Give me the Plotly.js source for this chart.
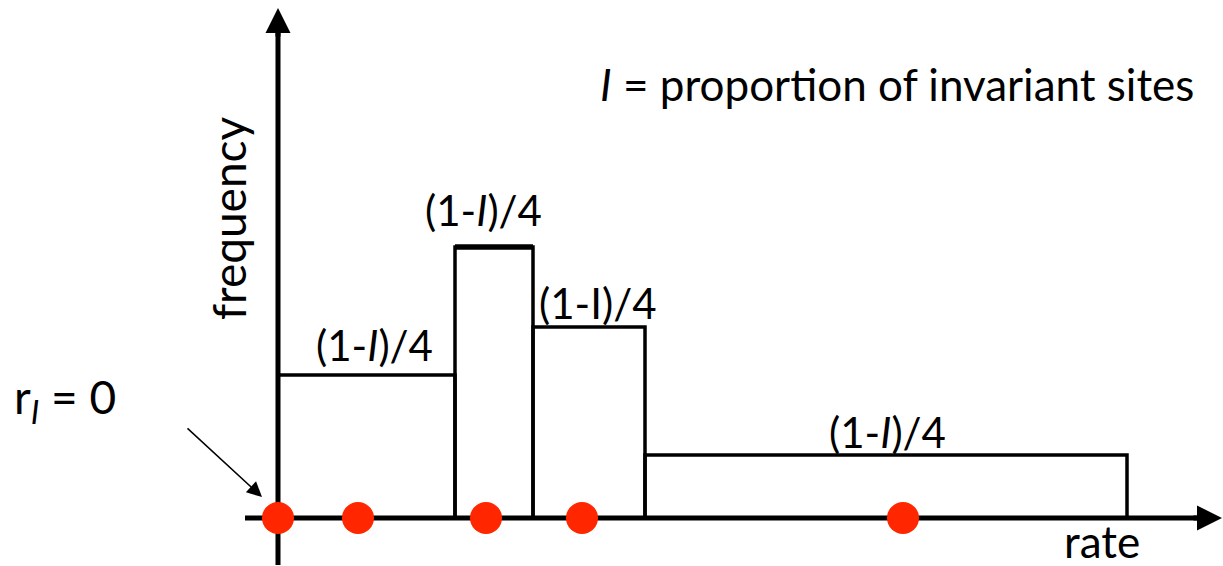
<!DOCTYPE html>
<html>
<head>
<meta charset="utf-8">
<script src="https://cdn.plot.ly/plotly-3.0.1.min.js"></script>
<style>
html,body{margin:0;padding:0;background:#fff;}
#chart{width:1223px;height:566px;}
</style>
</head>
<body>
<div id="chart"></div>
<script>
// ---- data (rate in arbitrary units, frequency in arbitrary units) ----
const binEdges = [0, 1.77, 2.55, 3.67, 8.49];          // rate category boundaries
const binHeights = [1.43, 2.71, 1.91, 0.63];           // frequency of each rate category
const binLabels = ['(1-<i>I</i>)/4', '(1-<i>I</i>)/4', '(1-I)/4', '(1-<i>I</i>)/4'];
const rateValues = [0, 0.80, 2.08, 3.04, 6.25];        // representative rates (r_I = 0 first)
const xAxisTitle = 'rate';
const yAxisTitle = 'frequency';
const noteText = '<i>I</i> = proportion of invariant sites';
const invariantText = 'r<sub><i>I</i></sub> = 0';

const FONT = 'Lato, "Open Sans", sans-serif';
const binCenters = binHeights.map((_, i) => (binEdges[i] + binEdges[i + 1]) / 2);
const binWidths = binHeights.map((_, i) => binEdges[i + 1] - binEdges[i]);

const traces = [
  {
    type: 'bar',
    x: binCenters,
    y: binHeights,
    width: binWidths,
    marker: {color: 'rgba(0,0,0,0)', line: {color: '#000', width: 3.5}},
    hoverinfo: 'skip',
    showlegend: false
  },
  {
    type: 'scatter',
    mode: 'lines',
    x: [binEdges[1], binEdges[2]],
    y: [binHeights[1], binHeights[1]],
    line: {color: '#000', width: 5.5},
    hoverinfo: 'skip',
    showlegend: false
  },
  {
    type: 'scatter',
    mode: 'markers',
    x: rateValues,
    y: rateValues.map(() => 0),
    marker: {color: '#ff2600', size: 32},
    cliponaxis: false,
    hoverinfo: 'skip',
    showlegend: false
  }
];

const labelXShift = [8, -11, 9, 1];
const labelYShift = [30, 37, 24, 23];

const annotations = [];
binLabels.forEach((t, i) => {
  annotations.push({
    x: binCenters[i], y: binHeights[i], xref: 'x', yref: 'y',
    text: t, showarrow: false, xanchor: 'center', yanchor: 'middle',
    xshift: labelXShift[i], yshift: labelYShift[i],
    font: {family: FONT, size: 42, color: '#000'}
  });
});
// axis arrowheads
annotations.push({x: 0, y: 5.10, xref: 'x', yref: 'y', ax: 0, ay: 30, axref: 'pixel', ayref: 'pixel',
  showarrow: true, arrowhead: 2, arrowsize: 1, arrowwidth: 5, arrowcolor: '#000', text: ''});
annotations.push({x: 9.44, y: 0, xref: 'x', yref: 'y', ax: -30, ay: 0,
  showarrow: true, arrowhead: 2, arrowsize: 1, arrowwidth: 5, arrowcolor: '#000', text: ''});
// pointer arrow to r_I
annotations.push({x: -0.16, y: 0.21, xref: 'x', yref: 'y', ax: -0.92, ay: 0.91, axref: 'x', ayref: 'y',
  showarrow: true, arrowhead: 2, arrowsize: 2, arrowwidth: 1.5, arrowcolor: '#000', text: ''});
// texts
annotations.push({x: 6.19, y: 4.34, xref: 'x', yref: 'y', text: noteText, showarrow: false,
  xanchor: 'center', yanchor: 'middle', font: {family: FONT, size: 44, color: '#000'}});
annotations.push({x: -0.50, y: 3.00, xref: 'x', yref: 'y', text: yAxisTitle, showarrow: false, textangle: -90,
  xanchor: 'center', yanchor: 'middle', font: {family: FONT, size: 46, color: '#000'}});
annotations.push({x: 8.24, y: -0.23, xref: 'x', yref: 'y', text: xAxisTitle, showarrow: false,
  xanchor: 'center', yanchor: 'middle', font: {family: FONT, size: 44, color: '#000'}});
annotations.push({x: -2.13, y: 1.18, xref: 'x', yref: 'y', text: invariantText, showarrow: false,
  xanchor: 'center', yanchor: 'middle', font: {family: FONT, size: 46, color: '#000'}});

const layout = {
  width: 1223, height: 566,
  margin: {l: 0, r: 0, t: 0, b: 0},
  paper_bgcolor: '#fff', plot_bgcolor: '#fff',
  xaxis: {range: [-2.78, 9.45], visible: false, fixedrange: true},
  yaxis: {range: [-0.48, 5.18], visible: false, fixedrange: true},
  barmode: 'overlay',
  showlegend: false,
  shapes: [
    {type: 'line', xref: 'x', yref: 'y', x0: 0, x1: 0, y0: -0.47, y1: 4.95, layer: 'below', line: {color: '#000', width: 5}},
    {type: 'line', xref: 'x', yref: 'y', x0: -0.33, x1: 9.30, y0: 0, y1: 0, layer: 'below', line: {color: '#000', width: 5}}
  ],
  annotations: annotations
};

Plotly.newPlot('chart', traces, layout, {staticPlot: true, displayModeBar: false});
</script>
</body>
</html>
